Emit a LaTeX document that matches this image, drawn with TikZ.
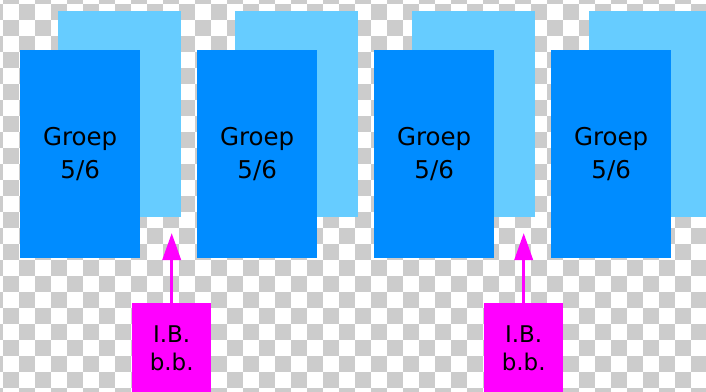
\documentclass[tikz,border=0pt]{standalone}
\usepackage{fontspec}
\setmainfont{DejaVu Sans}
\usetikzlibrary{arrows.meta}
\definecolor{groepblue}{RGB}{0,140,255}
\definecolor{backblue}{RGB}{102,204,255}
\definecolor{ibpink}{RGB}{255,0,255}
\definecolor{checkgrey}{RGB}{204,204,204}
\begin{document}
\begin{tikzpicture}[x=1pt, y=-1pt,
    groep/.style = {fill=groepblue, minimum width=120pt, minimum height=208pt, anchor=north west,
                    inner sep=0pt, align=center, font=\fontsize{24.5}{33}\selectfont},
    back/.style = {fill=backblue, minimum width=123pt, minimum height=206pt, anchor=north west},
    ibbox/.style = {fill=ibpink, minimum width=79pt, minimum height=90pt, anchor=north west,
                    inner sep=0pt, align=center, font=\fontsize{23}{28}\selectfont},
    ibarrow/.style = {ibpink, line width=3.5pt, -{Triangle[width=18pt,length=27pt]}}]
                \useasboundingbox (0,0) rectangle (706,391);
                \clip (0,0) rectangle (706,391);
                % checkerboard
                \fill[white] (0,0) rectangle (706,391);
                \foreach \i in {-1,...,43}
                    \foreach \j in {-1,...,24}
                        {\ifodd\numexpr\i+\j\relax
                            \fill[checkgrey] (3+16*\i,4+16*\j) rectangle ++(16,16);
                         \fi}
                % back sheets
                \foreach \k in {1,...,4}
                    \node[back] (back\k) at (58+177*\k-177,11) {};
                % groups
                \foreach \k in {1,...,4}
                    \node[groep] (groep\k) at (20+177*\k-177,50) {Groep\\5/6};
                % I.B. boxes
                \node[ibbox] (ib1) at (132,303) {I.B.\\b.b.};
                \node[ibbox] (ib2) at (484,303) {I.B.\\b.b.};
                \coordinate (tip1) at (173,233);
                \coordinate (tip2) at (525,233);
                \draw[ibarrow] (ib1.north) -- (ib1.north |- tip1);
                \draw[ibarrow] (ib2.north) -- (ib2.north |- tip2);
\end{tikzpicture}
\end{document}
